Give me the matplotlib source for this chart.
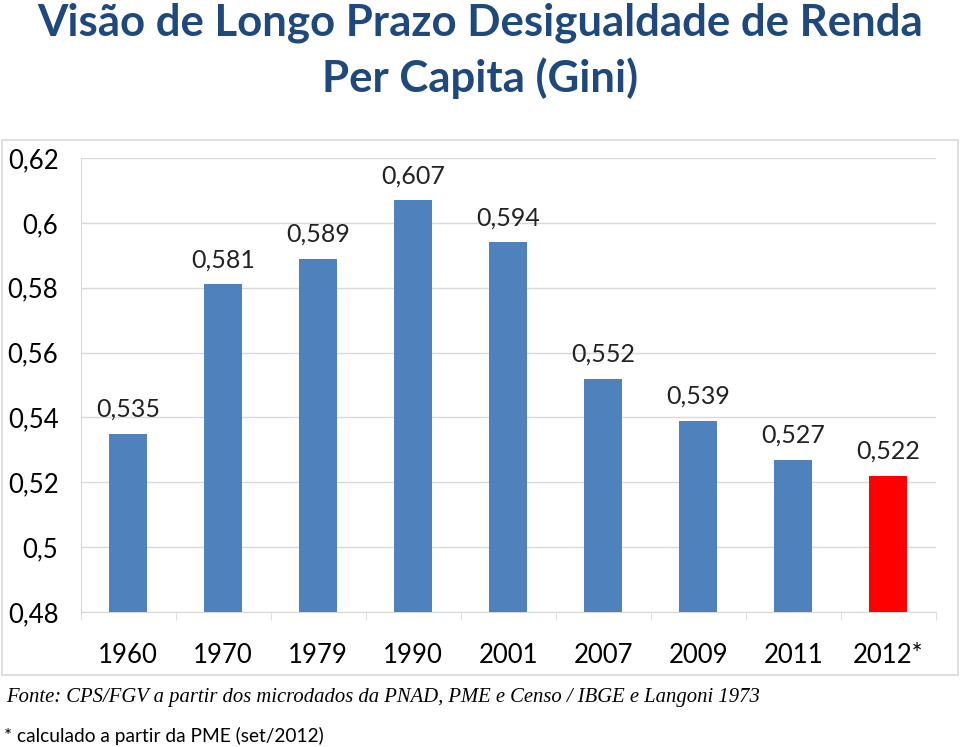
import matplotlib
matplotlib.use("Agg")
from matplotlib import pyplot as plt
from matplotlib.patches import Rectangle

anos = ["1960", "1970", "1979", "1990", "2001", "2007", "2009", "2011", "2012*"]
gini = [0.535, 0.581, 0.589, 0.607, 0.594, 0.552, 0.539, 0.527, 0.522]
cores = ["#4F81BD"] * 8 + ["#FF0000"]
yticks = [0.48, 0.50, 0.52, 0.54, 0.56, 0.58, 0.60, 0.62]
ytick_labels = ["0,48", "0,5", "0,52", "0,54", "0,56", "0,58", "0,6", "0,62"]

plt.rcParams['font.family'] = ['Lato', 'DejaVu Sans']

fig = plt.figure(figsize=(9.6, 7.47), dpi=100)
ax = fig.add_axes([0.084, 0.1807, 0.891, 0.6078])

# moldura do grafico
fig.patches.append(Rectangle((0.002, 0.0964), 0.996, 0.716, transform=fig.transFigure,
                             fill=False, edgecolor="#D9D9D9", linewidth=1.2))

x = range(len(anos))
ax.bar(x, [g - 0.48 for g in gini], bottom=0.48, width=0.4, color=cores, zorder=3)
for i, g in enumerate(gini):
    ax.text(i, g + 0.004, ("%.3f" % g).replace(".", ","), ha="center", va="bottom",
            fontsize=18, color="#222222")

ax.set_xlim(-0.5, len(anos) - 0.5)
ax.set_ylim(0.48, 0.62)
ax.set_yticks(yticks)
ax.set_yticklabels(ytick_labels, fontsize=18.5)
ax.set_xticks(list(x))
ax.set_xticklabels(anos, fontsize=18.5)
ax.set_xticks([i + 0.5 for i in range(-1, len(anos))], minor=True)
ax.tick_params(axis="y", length=0, pad=16)
ax.tick_params(axis="x", which="major", length=0, pad=22)
ax.tick_params(axis="x", which="minor", length=6, color="#D9D9D9", direction="out")
ax.grid(axis="y", color="#D9D9D9", linewidth=1, zorder=0)
for s in ["top", "right"]:
    ax.spines[s].set_visible(False)
ax.spines["left"].set_color("#D9D9D9")
ax.spines["bottom"].set_color("#D9D9D9")

fig.text(0.5, 0.997, "Visão de Longo Prazo Desigualdade de Renda\nPer Capita (Gini)",
         ha="center", va="top", fontsize=31.5, fontweight="bold", color="#1F497D",
         linespacing=1.42)

fig.text(0.006, 0.066, "Fonte: CPS/FGV a partir dos microdados da PNAD, PME e Censo / IBGE e Langoni 1973",
         ha="left", va="center", fontsize=14.9, style="italic", family="Liberation Serif")
fig.text(0.004, 0.015, "* calculado a partir da PME (set/2012)",
         ha="left", va="center", fontsize=13.8)

plt.savefig("out.png")
